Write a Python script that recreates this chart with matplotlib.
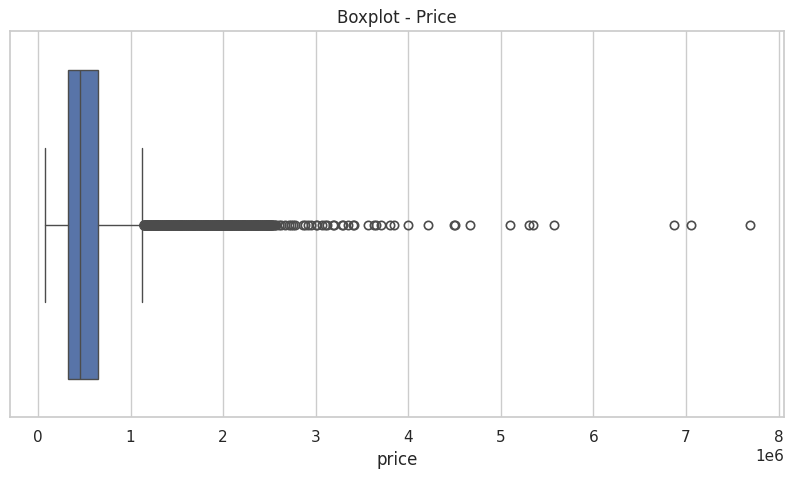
import matplotlib
matplotlib.use('Agg')
import matplotlib.pyplot as plt
import seaborn as sns

# outliers in units of 1e6
# the solid part of the band, too many points to tell apart
dense_prices = [1.15, 1.17, 1.19, 1.21, 1.23, 1.25, 1.27, 1.29, 1.31, 1.33, 1.35, 1.37, 1.39, 1.41,
                1.43, 1.45, 1.47, 1.49, 1.51, 1.53, 1.55, 1.57, 1.59, 1.61, 1.63, 1.65, 1.67, 1.69,
                1.71, 1.73, 1.75, 1.77, 1.79, 1.81, 1.83, 1.85, 1.87, 1.89, 1.91, 1.93, 1.95, 1.97,
                1.99, 2.01, 2.03, 2.05, 2.07, 2.09, 2.11, 2.13, 2.15, 2.17, 2.19, 2.21, 2.23, 2.25,
                2.27, 2.29, 2.31, 2.33, 2.35, 2.37, 2.39, 2.41, 2.43, 2.45, 2.47, 2.49, 2.51, 2.53]
sparse_prices = [2.55, 2.56, 2.57, 2.6, 2.63, 2.67, 2.71, 2.73, 2.75, 2.78,
                 2.86, 2.89, 2.92, 2.95, 3.0, 3.01, 3.07, 3.1, 3.12, 3.19, 3.2, 3.28, 3.3, 3.35, 3.4,
                 3.41, 3.57, 3.63, 3.65, 3.71, 3.8, 3.85, 4.0, 4.21, 4.49, 4.5, 4.67, 5.1, 5.3, 5.35,
                 5.57, 6.87, 7.05, 7.69]

q1 = 0.322
median = 0.457
q3 = 0.645
whisker_low = 0.078
whisker_high = 1.127

sns.set_theme(style='whitegrid')
plt.rcParams['font.family'] = ['DejaVu Sans']

fig = plt.figure(figsize=(7.94, 4.79), dpi=100)
ax = fig.add_axes([10 / 794, 1 - 417 / 479, 774 / 794, 386 / 479])

stats = [{'med': median * 1e6, 'q1': q1 * 1e6, 'q3': q3 * 1e6,
          'whislo': whisker_low * 1e6, 'whishi': whisker_high * 1e6,
          'fliers': [p * 1e6 for p in sparse_prices]}]
line_color = '#4c4c4c'
ax.bxp(stats, vert=False, positions=[0], widths=0.8, patch_artist=True,
       boxprops={'facecolor': '#5874a8', 'edgecolor': line_color, 'linewidth': 1.0},
       medianprops={'color': line_color, 'linewidth': 1.0},
       whiskerprops={'color': line_color, 'linewidth': 1.0},
       capprops={'color': line_color, 'linewidth': 1.0},
       flierprops={'marker': 'o', 'markerfacecolor': 'none', 'markeredgecolor': line_color,
                   'markersize': 6, 'markeredgewidth': 1.2})
ax.plot([p * 1e6 for p in dense_prices], [0] * len(dense_prices), linestyle='none', marker='o',
        color=line_color, markersize=7, markeredgewidth=0.8)

ax.set_xlim(-0.302e6, 8.059e6)
ax.set_ylim(0.498, -0.502)
ax.set_yticks([])
ax.set_xticks([i * 1e6 for i in range(9)])
ax.grid(True, axis='x')
ax.grid(False, axis='y')
ax.ticklabel_format(axis='x', style='sci', scilimits=(6, 6))
ax.set_title('Boxplot - Price', pad=5.5)
ax.set_xlabel('price')

fig.savefig('out.png', dpi=100)
